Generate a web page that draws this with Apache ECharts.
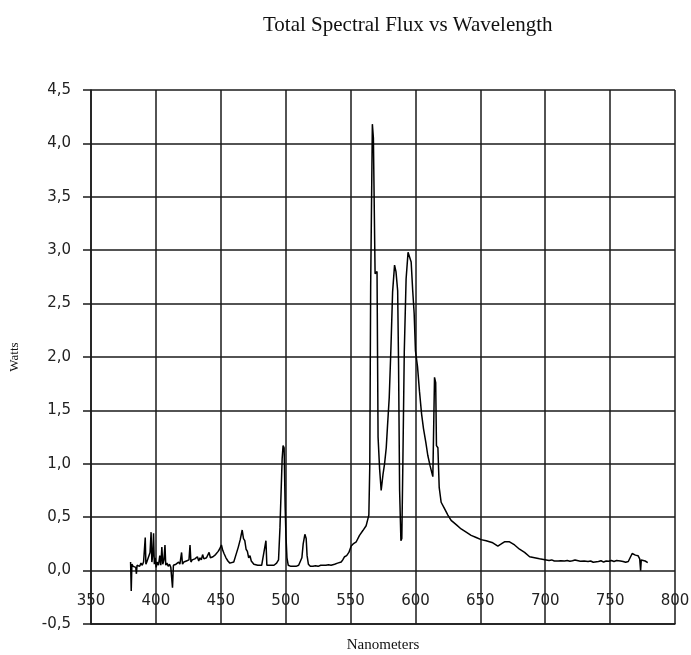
<!DOCTYPE html>
<html>
<head>
<meta charset="utf-8">
<style>
  html, body { margin: 0; padding: 0; background: #fff; }
  #chart { width: 691px; height: 655px; }
</style>
<script src="https://cdn.jsdelivr.net/npm/echarts@6/dist/echarts.min.js"></script>
</head>
<body>
<div id="chart"></div>
<script>
// Wavelength samples (nm) and measured flux (W) of the lamp spectrum
const wavelengths = [
  380.5, 381.0, 381.5, 382.5, 383.5, 384.5, 385.0, 385.5, 386.5, 387.5,
  388.5, 389.5, 390.5, 391.8, 392.3, 393.0, 394.5, 395.5, 396.3, 396.9,
  397.6, 398.2, 398.8, 399.5, 400.2, 401.0, 402.0, 403.0, 403.8, 404.6,
  405.3, 406.2, 407.0, 407.6, 408.5, 409.5, 410.5, 411.5, 412.8, 413.5,
  414.5, 415.5, 416.5, 417.5, 418.5, 419.8, 420.5, 421.5, 422.5, 423.5,
  424.5, 425.5, 426.3, 427.0, 428.0, 429.0, 430.0, 431.0, 432.0, 433.0,
  434.0, 435.0, 436.0, 437.0, 438.0, 439.0, 440.0, 441.0, 442.0, 443.0,
  444.0, 445.0, 446.0, 447.0, 448.0, 449.0, 450.5, 451.5, 452.5, 454.0,
  455.5, 457.0, 458.5, 460.0, 461.5, 462.5, 463.5, 465.0, 466.5, 467.5,
  468.5, 469.5, 470.5, 471.5, 472.5, 473.5, 474.5, 475.5, 477.0, 478.5,
  480.0, 481.5, 483.0, 484.8, 485.5, 487.0, 489.0, 491.0, 493.0, 494.5,
  495.6, 497.3, 498.0, 498.8, 499.6, 500.2, 501.0, 502.0, 504.0, 506.0,
  508.0, 510.0, 511.5, 512.5, 513.5, 514.8, 515.8, 516.5, 517.5, 519.0,
  521.0, 523.0, 525.0, 527.0, 529.0, 531.0, 533.0, 535.0, 537.7, 540.0,
  542.8, 544.0, 545.4, 547.0, 548.7, 550.5, 552.0, 554.4, 556.9, 559.5,
  562.0, 564.1, 564.8, 565.5, 566.8, 567.6, 568.9, 570.4, 571.2, 572.4,
  573.6, 575.0, 576.2, 577.5, 578.5, 579.8, 581.1, 582.4, 583.9, 585.0,
  586.3, 587.0, 587.8, 588.8, 589.5, 590.3, 591.4, 592.8, 594.3, 595.6,
  596.7, 597.9, 599.0, 600.0, 601.6, 603.1, 604.7, 606.2, 608.0, 609.5,
  611.3, 613.4, 614.2, 614.7, 615.6, 616.2, 617.3, 618.3, 619.8, 622.4,
  625.0, 627.5, 631.4, 635.2, 639.1, 642.9, 646.8, 650.6, 654.5, 659.6,
  663.5, 666.1, 668.6, 672.5, 676.4, 680.2, 684.1, 688.0, 691.8, 695.6,
  700.8, 703.0, 705.0, 707.0, 708.5, 710.0, 711.0, 712.0, 715.0, 717.0,
  719.0, 721.0, 723.0, 724.0, 727.0, 730.0, 733.0, 735.0, 737.0, 738.0,
  741.0, 743.0, 745.0, 747.0, 749.0, 751.0, 753.0, 755.0, 756.0, 758.0,
  760.0, 762.0, 764.0, 765.5, 767.0, 768.0, 769.5, 770.5, 771.5, 772.8,
  773.5, 774.0, 775.5, 777.0, 779.0
];
const watts = [
  0.08, -0.19, 0.06, 0.04, 0.05, 0.03, -0.03, 0.05, 0.06, 0.04,
  0.07, 0.05, 0.08, 0.31, 0.06, 0.08, 0.09, 0.17, 0.36, 0.08,
  0.15, 0.35, 0.06, 0.12, 0.03, 0.08, 0.05, 0.14, 0.05, 0.22,
  0.06, 0.10, 0.24, 0.05, 0.07, 0.04, 0.06, 0.03, -0.16, 0.05,
  0.04, 0.06, 0.05, 0.08, 0.06, 0.17, 0.06, 0.08, 0.07, 0.09,
  0.08, 0.10, 0.24, 0.08, 0.10, 0.09, 0.11, 0.10, 0.13, 0.09,
  0.12, 0.10, 0.15, 0.11, 0.10, 0.12, 0.11, 0.17, 0.12, 0.11,
  0.13, 0.12, 0.15, 0.14, 0.18, 0.20, 0.24, 0.19, 0.16, 0.12,
  0.09, 0.07, 0.06, 0.08, 0.14, 0.15, 0.22, 0.29, 0.38, 0.30,
  0.28, 0.20, 0.18, 0.12, 0.14, 0.09, 0.10, 0.06, 0.05, 0.05,
  0.04, 0.05, 0.05, 0.28, 0.05, 0.04, 0.05, 0.05, 0.07, 0.10,
  0.40, 1.05, 1.17, 1.15, 0.60, 0.33, 0.12, 0.05, 0.04, 0.04,
  0.04, 0.05, 0.06, 0.12, 0.25, 0.34, 0.30, 0.14, 0.06, 0.04,
  0.04, 0.045, 0.04, 0.05, 0.05, 0.05, 0.055, 0.05, 0.06, 0.07,
  0.08, 0.10, 0.13, 0.14, 0.17, 0.23, 0.25, 0.27, 0.33, 0.375,
  0.42, 0.52, 0.97, 2.67, 4.18, 4.05, 2.78, 2.80, 1.25, 0.95,
  0.75, 0.90, 1.00, 1.15, 1.36, 1.62, 2.08, 2.61, 2.86, 2.80,
  2.62, 1.92, 0.75, 0.28, 0.30, 1.00, 2.05, 2.73, 2.98, 2.98,
  2.89, 2.62, 2.41, 2.06, 1.91, 1.68, 1.47, 1.33, 1.20, 1.08,
  0.98, 0.88, 0.88, 1.81, 1.76, 1.17, 1.15, 0.78, 0.64, 0.58,
  0.52, 0.47, 0.43, 0.39, 0.36, 0.33, 0.31, 0.29, 0.28, 0.26,
  0.23, 0.25, 0.27, 0.27, 0.24, 0.20, 0.17, 0.13, 0.12, 0.11,
  0.10, 0.095, 0.10, 0.09, 0.095, 0.09, 0.08, 0.092, 0.09, 0.095,
  0.088, 0.092, 0.10, 0.09, 0.088, 0.09, 0.085, 0.09, 0.078, 0.088,
  0.085, 0.092, 0.08, 0.09, 0.088, 0.095, 0.085, 0.094, 0.10, 0.09,
  0.085, 0.078, 0.085, 0.09, 0.16, 0.17, 0.145, 0.16, 0.14, 0.11,
  0.00, 0.10, 0.085, 0.09, 0.075
];

const titleText = 'Total Spectral Flux vs Wavelength';
const xName = 'Nanometers';
const yName = 'Watts';

const points = wavelengths.map((w, i) => [w, watts[i]]);
const comma = v => v.toFixed(1).replace('.', ',');
const gridLine = { show: true, lineStyle: { color: '#1a1a1a', width: 1.5 } };

const chart = echarts.init(document.getElementById('chart'), null, { renderer: 'canvas' });
chart.setOption({
  animation: false,
  backgroundColor: '#fff',
  title: {
    text: titleText,
    left: 258,
    top: 10,
    textStyle: { fontFamily: 'Liberation Serif', fontSize: 21, fontWeight: 'normal', color: '#111' }
  },
  grid: { left: 91, right: 16, top: 90, bottom: 31, containLabel: false, outerBoundsMode: 'none' },
  xAxis: {
    type: 'value',
    min: 350, max: 800, interval: 50,
    name: xName,
    nameLocation: 'middle',
    nameGap: 14,
    nameTextStyle: { fontFamily: 'Liberation Serif', fontSize: 15, color: '#111' },
    axisLine: { show: true, onZero: false, lineStyle: { color: '#1a1a1a', width: 1.5 } },
    axisTick: { show: false },
    // tick numbers sit just under the zero line, inside the plot frame
    axisLabel: { fontFamily: 'DejaVu Sans', fontSize: 15, color: '#222', margin: -30 },
    splitLine: gridLine
  },
  yAxis: {
    type: 'value',
    min: -0.5, max: 4.5, interval: 0.5,
    name: yName,
    nameLocation: 'middle',
    nameGap: 70,
    nameRotate: 90,
    nameTextStyle: { fontFamily: 'Liberation Serif', fontSize: 13, color: '#111' },
    axisLine: { show: true, onZero: false, lineStyle: { color: '#1a1a1a', width: 1.5 } },
    axisTick: { show: true, inside: false, length: 8, lineStyle: { color: '#1a1a1a', width: 1.5 } },
    axisLabel: { fontFamily: 'DejaVu Sans', fontSize: 15, color: '#222', margin: 20, formatter: comma },
    splitLine: gridLine
  },
  series: [{
    type: 'line',
    data: points,
    showSymbol: false,
    smooth: false,
    lineStyle: { color: '#000', width: 1.5 },
    z: 3
  }]
});
</script>
</body>
</html>
